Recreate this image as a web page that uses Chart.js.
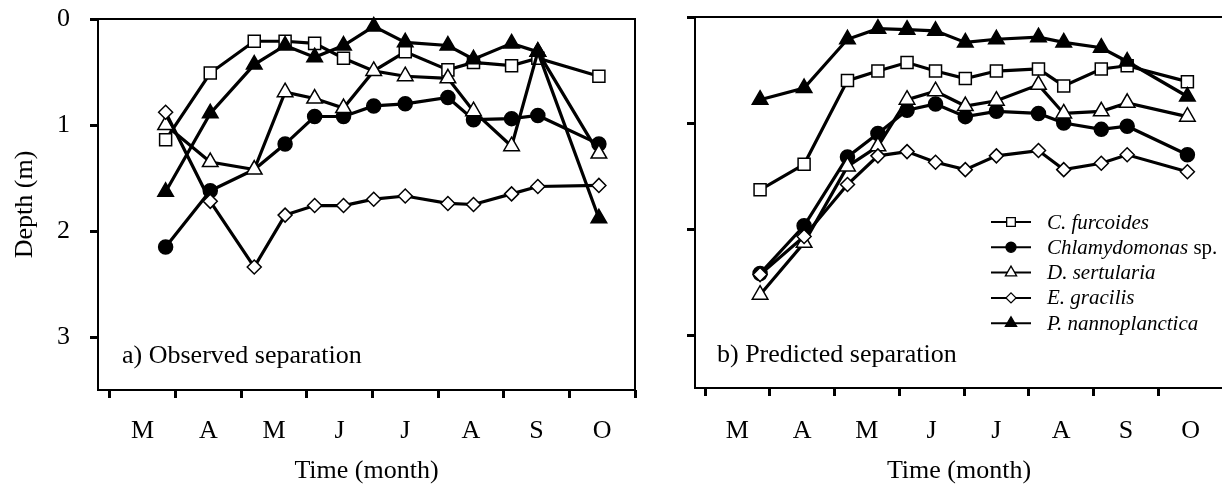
<!DOCTYPE html>
<html>
<head>
<meta charset="utf-8">
<script src="https://cdn.jsdelivr.net/npm/chart.js@4.4.1/dist/chart.umd.min.js"></script>
<style>
  body { margin: 0; background: #fff; overflow: hidden; width: 1222px; height: 484px; position: relative; }
  canvas { position: absolute; top: 0; }
  #left { left: 0; }
  #right { left: 600px; }
</style>
</head>
<body>
<canvas id="left" width="660" height="484"></canvas>
<canvas id="right" width="640" height="484"></canvas>
<script>
// month labels sit in the middle of each month, tick marks on month boundaries
const monthLabels = ['M', 'A', 'M', 'J', 'J', 'A', 'S', 'O'];
const depthTicks = [0, 1, 2, 3];
// sampling dates, in months after 1 March
const sampleMonths = [0.85, 1.53, 2.2, 2.67, 3.12, 3.56, 4.02, 4.5, 5.15, 5.54, 6.12, 6.52, 7.45];

const speciesNames = ['C. furcoides', 'Chlamydomonas', 'D. sertularia', 'E. gracilis', 'P. nannoplanctica'];
const speciesSuffix = ['', ' sp.', '', '', ''];

// a) observed depth (m)
const obsFurcoides     = [1.14, 0.51, 0.21, 0.21, 0.23, 0.37, 0.49, 0.31, 0.48, 0.41, 0.44, 0.37, 0.54];
const obsChlamydomonas = [2.15, 1.62, 1.42, 1.18, 0.92, 0.92, 0.82, 0.80, 0.74, 0.95, 0.94, 0.91, 1.18];
const obsSertularia    = [1.0, 1.35, 1.42, 0.69, 0.75, 0.84, 0.49, 0.54, 0.56, 0.87, 1.2, 0.31, 1.27];
const obsGracilis      = [0.88, 1.72, 2.34, 1.85, 1.76, 1.76, 1.70, 1.67, 1.74, 1.75, 1.65, 1.58, 1.57];
const obsNanno         = [1.63, 0.89, 0.43, 0.25, 0.36, 0.25, 0.07, 0.22, 0.25, 0.38, 0.23, 0.31, 1.88];
// points whose marker is covered by another species in the figure: [series, point]
const obsCovered = [[1, 2], [0, 6]];

// b) predicted depth (m)
const predFurcoides     = [1.63, 1.39, 0.60, 0.51, 0.43, 0.51, 0.58, 0.51, 0.49, 0.65, 0.49, 0.46, 0.61];
const predChlamydomonas = [2.42, 1.97, 1.32, 1.10, 0.88, 0.82, 0.94, 0.89, 0.91, 1.0, 1.06, 1.03, 1.30];
const predSertularia    = [2.62, 2.13, 1.41, 1.22, 0.78, 0.70, 0.84, 0.79, 0.64, 0.91, 0.89, 0.81, 0.94];
const predGracilis      = [2.43, 2.07, 1.58, 1.31, 1.27, 1.37, 1.44, 1.31, 1.26, 1.44, 1.38, 1.30, 1.46];
const predNanno         = [0.78, 0.67, 0.21, 0.11, 0.12, 0.13, 0.24, 0.21, 0.19, 0.24, 0.29, 0.42, 0.75];
const predCovered = [];

const serif = '"Liberation Serif", "Times New Roman", serif';
Chart.defaults.font.family = serif;
Chart.defaults.color = '#000';

const markers = [
    { style: 'rect', radius: 8.5, fill: '#fff' },
    { style: 'circle', radius: 7, fill: '#000' },
    { style: 'triangle', radius: 9, fill: '#fff' },
    { style: 'rectRot', radius: 7, fill: '#fff' },
    { style: 'triangle', radius: 9, fill: '#000' }
];

function makeDatasets(series, covered) {
    return series.map((vals, i) => ({
        label: speciesNames[i],
        data: vals.map((d, j) => ({ x: sampleMonths[j], y: d })),
        // later species are drawn on top, as in the figure
        order: series.length - 1 - i,
        borderColor: '#000',
        borderWidth: 3.2,
        pointStyle: markers[i].style,
        pointRadius: vals.map((d, j) => covered.some(c => c[0] === i && c[1] === j) ? 0 : markers[i].radius),
        pointBackgroundColor: markers[i].fill,
        pointBorderColor: '#000',
        pointBorderWidth: 1.5,
        tension: 0,
        fill: false,
        clip: false
    }));
}

// box round the plot + panel caption
const framePlugin = {
    id: 'frame',
    beforeDatasetsDraw(chart, args, opts) {
        const { ctx, chartArea: a } = chart;
        ctx.save();
        ctx.strokeStyle = '#000';
        ctx.lineWidth = 2;
        ctx.strokeRect(a.left, a.top, a.right - a.left, a.bottom - a.top);
        ctx.fillStyle = '#000';
        ctx.font = '26px ' + serif;
        ctx.textBaseline = 'alphabetic';
        ctx.fillText(opts.text, a.left + opts.dx, opts.baseline);
        ctx.restore();
    }
};

// legend drawn with a line through the marker, like the figure
const legendPlugin = {
    id: 'lineLegend',
    afterDatasetsDraw(chart, args, opts) {
        if (!opts.show) return;
        const ctx = chart.ctx;
        ctx.save();
        speciesNames.forEach((name, i) => {
            const y = opts.top + i * opts.rowGap;
            ctx.strokeStyle = '#000';
            ctx.lineWidth = 2;
            ctx.beginPath();
            ctx.moveTo(opts.lineX0, y);
            ctx.lineTo(opts.lineX1, y);
            ctx.stroke();
            ctx.fillStyle = markers[i].fill;
            ctx.lineWidth = 1.3;
            Chart.helpers.drawPoint(ctx, {
                pointStyle: markers[i].style,
                radius: markers[i].radius * 0.72,
                rotation: 0,
                borderWidth: 1.3
            }, (opts.lineX0 + opts.lineX1) / 2, y);
            ctx.fillStyle = '#000';
            ctx.textBaseline = 'middle';
            ctx.font = 'italic 21px ' + serif;
            ctx.fillText(name, opts.textX, y + 1);
            if (speciesSuffix[i]) {
                const w = ctx.measureText(name).width;
                ctx.font = '21px ' + serif;
                ctx.fillText(speciesSuffix[i], opts.textX + w, y + 1);
            }
        });
        ctx.restore();
    }
};

function makeScales(p) {
    return {
        x: {
            type: 'linear',
            min: p.xMin,
            max: 8,
            afterBuildTicks: axis => {
                axis.ticks = [];
                for (let v = 0; v <= 8; v += 0.5) axis.ticks.push({ value: v });
            },
            afterFit: axis => {
                axis.height = p.xAxisHeight;
                axis.paddingLeft = 0;
                axis.paddingRight = 0;
            },
            border: { display: false },
            grid: {
                drawOnChartArea: false,
                drawTicks: true,
                tickLength: 8,
                lineWidth: 3,
                color: c => Number.isInteger(c.tick.value) ? '#000' : 'rgba(0,0,0,0)'
            },
            ticks: {
                autoSkip: false,
                maxRotation: 0,
                padding: p.labelPad,
                font: { size: 26 },
                callback: v => Number.isInteger(v) ? '' : monthLabels[Math.floor(v)]
            },
            title: {
                display: true,
                text: 'Time (month)',
                font: { size: 26, lineHeight: 1 },
                padding: { top: 0, bottom: 0 }
            }
        },
        y: {
            type: 'linear',
            min: 0,
            max: 3.5,
            reverse: true,
            afterBuildTicks: axis => {
                axis.ticks = depthTicks.map(v => ({ value: v }));
            },
            afterFit: axis => {
                axis.width = p.yAxisWidth;
                axis.paddingTop = 0;
                axis.paddingBottom = 0;
            },
            border: { display: false },
            grid: {
                drawOnChartArea: false,
                drawTicks: true,
                tickLength: 8,
                lineWidth: 3,
                color: '#000'
            },
            ticks: {
                display: p.yLabels,
                padding: 20,
                font: { size: 26 },
                callback: v => String(v)
            },
            title: {
                display: p.yLabels,
                text: 'Depth (m)',
                font: { size: 26, lineHeight: 1 },
                padding: { top: 12, bottom: 0 }
            }
        }
    };
}

function makePanel(canvasId, series, covered, p) {
    const ctx = document.getElementById(canvasId).getContext('2d');
    return new Chart(ctx, {
        type: 'line',
        data: { datasets: makeDatasets(series, covered) },
        options: {
            responsive: false,
            animation: false,
            layout: { padding: { top: p.top, right: p.right, left: 0, bottom: 0 } },
            plugins: {
                legend: { display: false },
                tooltip: { enabled: false },
                frame: { text: p.caption, dx: p.captionDx, baseline: p.captionBaseline },
                lineLegend: p.legend
            },
            scales: makeScales(p)
        },
        plugins: [framePlugin, legendPlugin]
    });
}

makePanel('left',
    [obsFurcoides, obsChlamydomonas, obsSertularia, obsGracilis, obsNanno], obsCovered,
    {
        xMin: -0.18, top: 19, right: 25, xAxisHeight: 94, yAxisWidth: 98, labelPad: 18,
        yLabels: true, caption: 'a) Observed separation', captionDx: 24, captionBaseline: 363,
        legend: { show: false }
    });

makePanel('right',
    [predFurcoides, predChlamydomonas, predSertularia, predGracilis, predNanno], predCovered,
    {
        xMin: -0.155, top: 17, right: 17, xAxisHeight: 96, yAxisWidth: 95, labelPad: 20,
        yLabels: false, caption: 'b) Predicted separation', captionDx: 22, captionBaseline: 362,
        legend: { show: true, top: 222, rowGap: 25.3, lineX0: 391, lineX1: 431, textX: 447 }
    });
</script>
</body>
</html>
